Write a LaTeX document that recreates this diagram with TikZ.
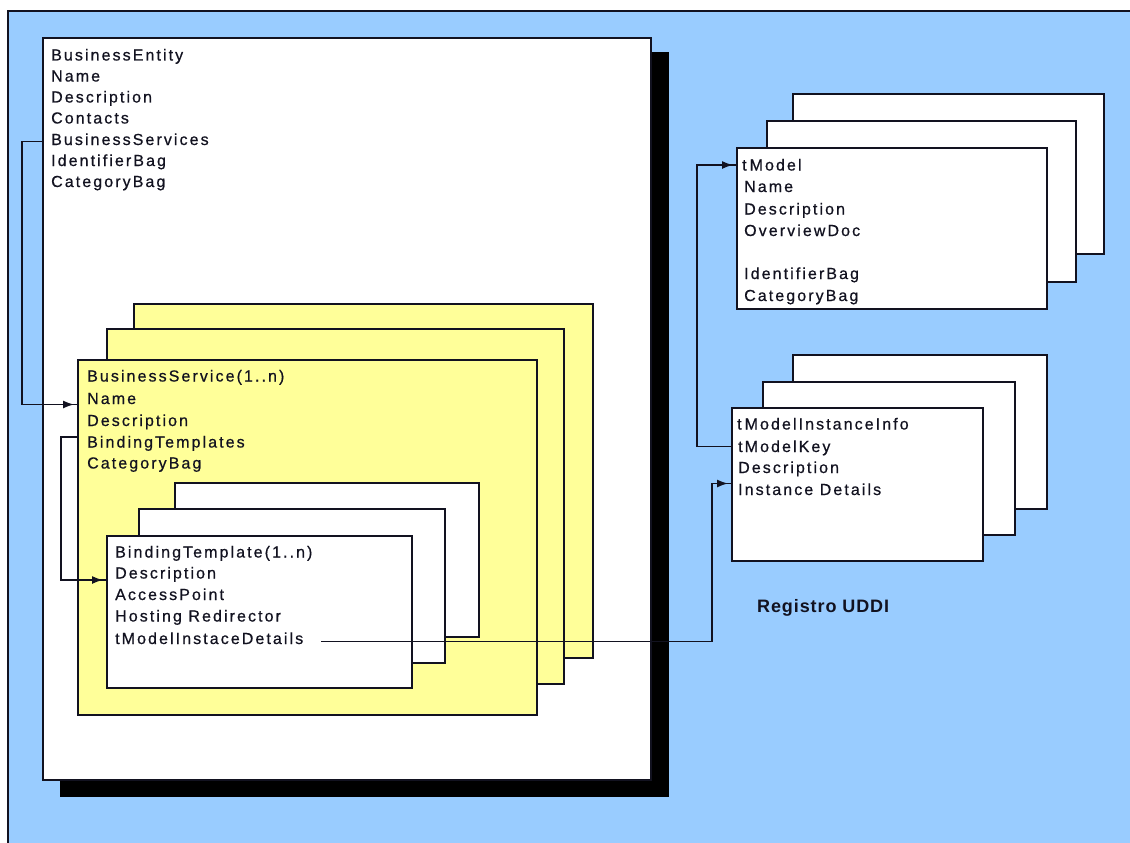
\documentclass[tikz,border=0pt]{standalone}
\usepackage{fontspec}
\newfontfamily\uifont[LetterSpace=13,FakeBold=0.6]{Liberation Sans}
\newfontfamily\titlefont[LetterSpace=5]{Liberation Sans}
\usetikzlibrary{arrows.meta,decorations.markings}
\definecolor{skyblue}{RGB}{153,204,255}
\definecolor{paleyellow}{RGB}{255,255,153}
\definecolor{ink}{RGB}{18,18,32}

\begin{document}
\begin{tikzpicture}[x=1pt,y=-1pt,
  card/.style={draw=ink, line width=1.6pt, fill=white, anchor=north west,
    inner sep=0pt, outer sep=0pt},
  ycard/.style={card, fill=paleyellow},
  shade/.style={fill=black, anchor=north west, inner sep=0pt, outer sep=0pt},
  txt/.style={anchor=base west, inner sep=0pt, text height=11pt, text depth=0pt,
    font=\uifont\fontsize{16}{19}\selectfont, text=ink},
  title/.style={anchor=west, inner sep=0pt, font=\titlefont\bfseries\fontsize{18}{22}\selectfont, text=ink},
  conn/.style={draw=ink, line width=1.5pt, postaction={decorate},
    decoration={markings, mark=at position -4pt with {\arrow{Latex[length=11pt,width=8pt]}}}}]

% canvas and frame
\useasboundingbox (0,0) rectangle (1130,843);
\fill[white] (0,0) rectangle (1130,843);
\fill[skyblue] (8,11) rectangle (1130,843);
\draw[ink, line width=1.6pt] (8,843) -- (8,11) -- (1130,11);

% BusinessEntity with its drop shadow
\node[shade, minimum width=609pt, minimum height=745pt] (beShadow) at (60,52) {};
\node[card, minimum width=608pt, minimum height=742pt] (be) at (43,38) {};
\node[txt] (beTitle) at (51,60.5) {BusinessEntity};
\node[txt] (beName)  at (51,81.5) {Name};
\node[txt] (beDesc)  at (51,102.5) {Description};
\node[txt] (beCont)  at (51,123.5) {Contacts};
\node[txt] (beServ)  at (51,145) {BusinessServices};
\node[txt] (beIdent) at (51,166) {IdentifierBag};
\node[txt] (beCat)   at (51,187) {CategoryBag};

% BusinessService stack
\node[ycard, minimum width=459pt, minimum height=354pt] (bs3) at (134,304) {};
\node[ycard, minimum width=457pt, minimum height=355pt] (bs2) at (107,329) {};
\node[ycard, minimum width=459pt, minimum height=355pt] (bs)  at (78,360) {};
\node[txt] (bsTitle) at (87,381.5) {BusinessService(1..n)};
\node[txt] (bsName)  at (87,404) {Name};
\node[txt] (bsDesc)  at (87,426) {Description};
\node[txt] (bsBind)  at (87,447.5) {BindingTemplates};
\node[txt] (bsCat)   at (87,468.5) {CategoryBag};

% BindingTemplate stack
\node[card, minimum width=304pt, minimum height=154pt] (bt3) at (175,483) {};
\node[card, minimum width=306pt, minimum height=154pt] (bt2) at (139,509) {};
\node[card, minimum width=305pt, minimum height=152pt] (bt)  at (107,536) {};
\node[txt] (btTitle) at (115,557.5) {BindingTemplate(1..n)};
\node[txt] (btDesc)  at (115,578.5) {Description};
\node[txt] (btAcc)   at (115,600) {AccessPoint};
\node[txt] (btHost)  at (115,621.5) {Hosting Redirector};
\node[txt] (btDet)   at (115,644) {tModelInstaceDetails};

% tModel stack
\node[card, minimum width=311pt, minimum height=160pt] (tm3) at (793,94) {};
\node[card, minimum width=309pt, minimum height=161pt] (tm2) at (767,121) {};
\node[card, minimum width=310pt, minimum height=161pt] (tm)  at (737,148) {};
\node[txt] (tmTitle) at (742,170.5) {t\hspace{3pt}Model};
\node[txt] (tmName)  at (744,192) {Name};
\node[txt] (tmDesc)  at (744,214.5) {Description};
\node[txt] (tmDoc)   at (744,236) {OverviewDoc};
\node[txt] (tmIdent) at (744,279) {IdentifierBag};
\node[txt] (tmCat)   at (744,301) {CategoryBag};

% tModelInstanceInfo stack
\node[card, minimum width=254pt, minimum height=154pt] (ti3) at (793,355) {};
\node[card, minimum width=252pt, minimum height=153pt] (ti2) at (763,382) {};
\node[card, minimum width=251pt, minimum height=153pt] (ti)  at (732,408) {};
\node[txt] (tiTitle) at (737,429.5) {t\hspace{3pt}ModelInstanceInfo};
\node[txt] (tiKey)   at (738,452) {tModelKey};
\node[txt] (tiDesc)  at (738,473) {Description};
\node[txt] (tiInst)  at (738,495) {Instance Details};

\node[title] (registry) at (757,608) {Registro UDDI};

% connector lanes (only their x matters)
\coordinate (laneA) at (22,300);
\coordinate (laneB) at (61,500);
\coordinate (laneC) at (712,560);
\coordinate (laneD) at (697,300);
\coordinate (detOut) at ([xshift=18pt,yshift=-3pt]btDet.east);

\draw[conn] ([yshift=-2pt]beServ.west -| be.west) -| (laneA) |- ([yshift=-6pt]bsName.west -| bs.west);
\draw[conn] ([yshift=5pt]bsBind.west -| bs.west) -| (laneB) |- ([yshift=-7pt]btDesc.west -| bt.west);
\draw[conn] (detOut) -| (laneC) |- ([yshift=6pt]tiInst.west -| ti.west);
\draw[conn] (tiKey.west -| ti.west) -| (laneD) |- (tmTitle.west -| tm.west);
\end{tikzpicture}
\end{document}
